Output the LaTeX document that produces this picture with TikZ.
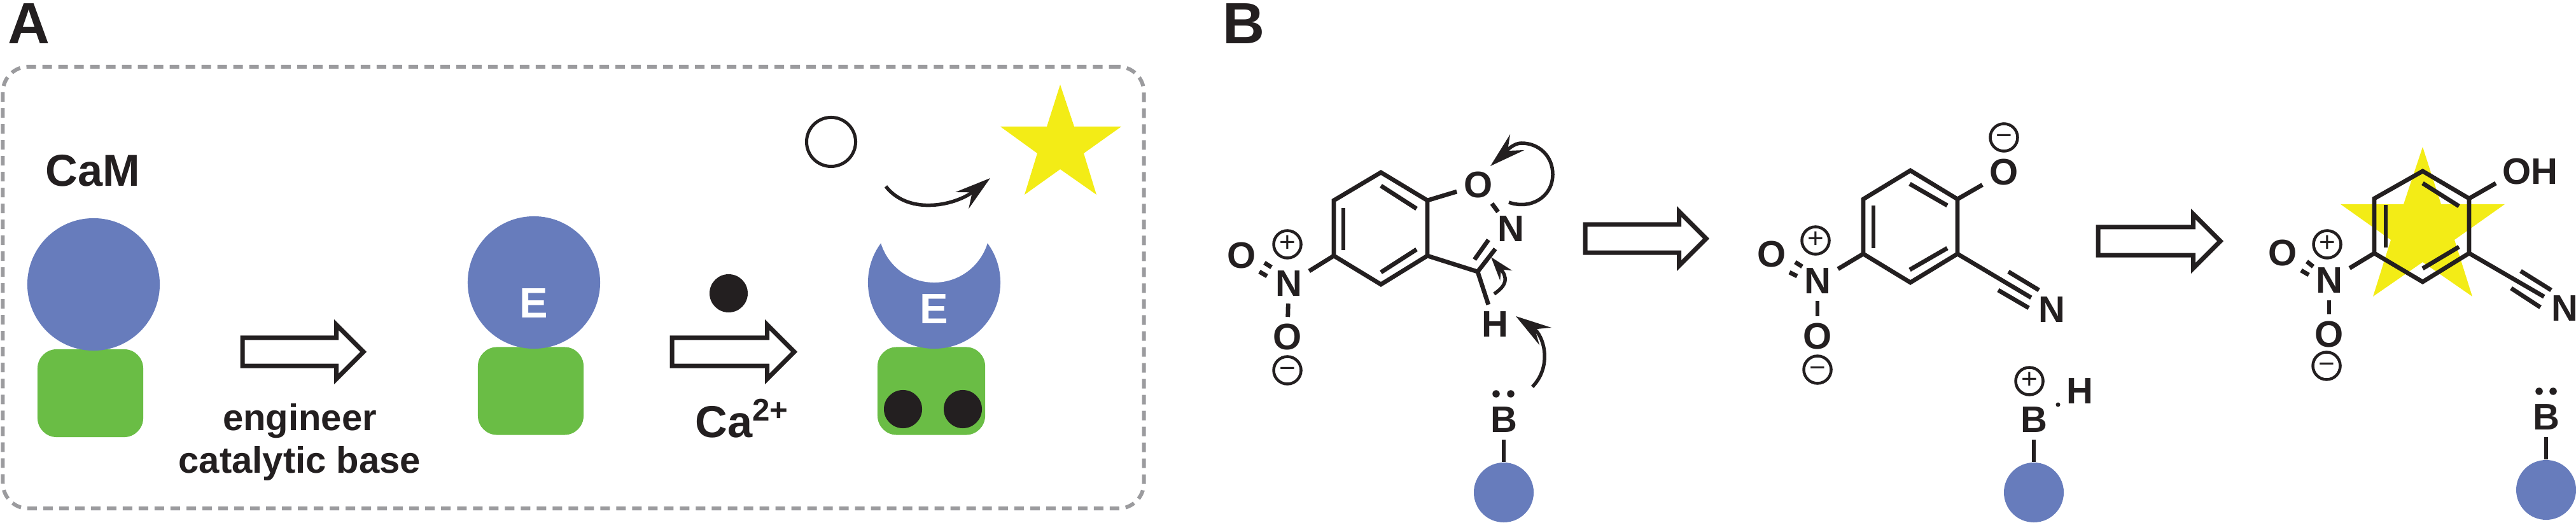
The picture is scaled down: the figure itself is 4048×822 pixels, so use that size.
\documentclass[tikz,border=0pt]{standalone}
\usepackage{fontspec}
\usepackage{tikz}
\usetikzlibrary{positioning, arrows.meta, shapes.geometric, shapes.arrows}
\setmainfont{Liberation Sans}
\definecolor{ink}{HTML}{231F20}
\definecolor{lobeblue}{HTML}{677CBC}
\definecolor{lobegreen}{HTML}{6ABD45}
\definecolor{glowyellow}{HTML}{F3EC16}
\definecolor{framegray}{HTML}{9B9B9E}
\tikzset{
    panellabel/.style={font=\fontsize{26}{26}\selectfont\bfseries, text=ink, inner sep=0pt},
    caption/.style={font=\fontsize{16.5}{18.8}\selectfont\bfseries, text=ink, inner sep=0pt, align=center},
    bigtext/.style={font=\fontsize{20}{20}\selectfont\bfseries, text=ink, inner sep=0pt},
    enz/.style={font=\fontsize{19}{19}\selectfont\bfseries, text=white, inner sep=0pt},
    atom/.style={font=\fontsize{16.5}{16.5}\selectfont\bfseries, text=ink, inner sep=3pt},
    charge/.style={circle, draw=ink, line width=0.045cm, minimum size=0.43cm, inner sep=0pt, text=ink,
        font=\fontsize{12.5}{12.5}\selectfont, text height=0.66em, text depth=0pt},
    lobe/.style={circle, fill=lobeblue, minimum size=2.08cm, inner sep=0pt},
    bead/.style={circle, fill=lobeblue, minimum size=0.94cm, inner sep=0pt},
    greenbox/.style={rectangle, fill=lobegreen, rounded corners=0.3cm, minimum height=1.38cm, inner sep=0pt},
    ion/.style={circle, fill=ink, minimum size=0.6cm, inner sep=0pt},
    pairdot/.style={circle, fill=ink, minimum size=0.115cm, inner sep=0pt},
    fatarrow/.style={single arrow, draw=ink, fill=white, line width=0.07cm, minimum height=1.9cm, anchor=tail,
        inner xsep=0pt, inner ysep=0.185cm, single arrow head extend=0.205cm, outer sep=0pt},
    bond/.style={draw=ink, line width=0.068cm},
    thinbond/.style={draw=ink, line width=0.055cm},
    curly/.style={draw=ink, line width=0.055cm, -{Stealth[length=0.56cm, width=0.33cm, inset=0.2cm]}},
    curlysmall/.style={draw=ink, line width=0.055cm, -{Stealth[length=0.37cm, width=0.24cm, inset=0.12cm]}},
}

\begin{document}
\begin{tikzpicture}[x=0.01cm, y=-0.01cm]
    \useasboundingbox (0,0) rectangle (4048,822);
    \node (labelA) [panellabel] at (46,37) {A};
    \node (labelB) [panellabel] at (1954,37) {B};
    \node (frame) [draw=framegray, line width=0.06cm, dash pattern=on 0.15cm off 0.1cm, rounded corners=0.4cm,
        minimum width=17.92cm, minimum height=6.94cm, inner sep=0pt] at (901,452) {};

    % Panel A: the three states
    \node (cam) [bigtext] at (146,268) {CaM};
    \node (domA) [greenbox, minimum width=1.66cm] at (142,618) {};
    \node (lobeA) [lobe] at (147,447) {};
    \node (stepA) [fatarrow] at (381,553) {};
    \node (stepAtext) [caption] at (471,695) {engineer\\catalytic base};
    \node (domB) [greenbox, minimum width=1.66cm] at (834,614.5) {};
    \node (lobeB) [lobe] at (839,444) {};
    \node (enzB) [enz] at (839,477) {E};
    \node (calcium) [ion] at (1145,461) {};
    \node (stepB) [fatarrow, minimum height=1.92cm] at (1056,553) {};
    \node (catext) [bigtext, anchor=base west] at (1092,688) {Ca\textsuperscript{2+}};
    \node (domC) [greenbox, minimum width=1.69cm] at (1463.5,614.5) {};
    \node (lobeC) [lobe] at (1468,444) {};
    \node (bite) [circle, fill=white, minimum size=1.75cm, inner sep=0pt] at (1468,356.5) {};
    \node (enzC) [enz] at (1468,486) {E};
    \node (ionL) [ion] at (1419,643) {};
    \node (ionR) [ion] at (1513,643) {};
    \node (substrate) [circle, draw=ink, line width=0.05cm, minimum size=0.77cm, inner sep=0pt] at (1306,223) {};
    \fill [glowyellow] (1666,133) -- (1688,199) -- (1762,199) -- (1703,241) -- (1723,306) -- (1666,266)
        -- (1610,306) -- (1630,241) -- (1572,199) -- (1645,199) -- cycle;
    \coordinate (relstart) at (1392,293);
    \coordinate (relend) at (1556,280);
    \draw [curly] (relstart) .. controls (1429,340) and (1503,322) .. (relend);

    % Panel B: isoxazole
    \coordinate (a1) at (2170,271);
    \coordinate (a2) at (2243,315);
    \coordinate (a3) at (2243,402);
    \coordinate (a4) at (2170,447);
    \coordinate (a5) at (2096,402);
    \coordinate (a6) at (2096,315);
    \coordinate (a7) at (2322,427);
    \draw [bond] (a1) -- (a2) -- (a3) -- (a4) -- (a5) -- (a6) -- cycle;
    \draw [bond] (2111,327) -- (2111,393);
    \draw [bond] (2170,292) -- (2226,328);
    \draw [bond] (2170,428) -- (2226,392);
    \node (oxy1) [atom] at (2323,291) {O};
    \node (nit1) [atom] at (2374,360) {N};
    \node (hyd1) [atom] at (2349,510) {H};
    \draw [bond] (a2) -- (oxy1);
    \draw [bond, shorten <=-1pt, shorten >=-1.5pt] (oxy1) -- (nit1);
    \draw [bond] (a3) -- (a7);
    \draw [bond] (a7) -- (nit1);
    \draw [bond] (2317,408) -- (2339,377);
    \draw [bond] (a7) -- (hyd1);
    % Nitro group
    \node (nN1) [atom] at (2025,446) {N};
    \node (nOa1) [atom] at (1951,402) {O};
    \node (nOb1) [atom] at (2023,530) {O};
    \node (plus1) [charge] at (2023,384) {+};
    \node (minus1) [charge] at (2023,582) {−};
    \draw [bond] (a5) -- (nN1);
    \draw [bond] (nN1) -- (nOb1);
    \draw [bond] (1987,413) -- (1998,420);
    \draw [bond] (1979,427) -- (1991,434);
    % Base and curly arrows
    \node (baseA) [atom] at (2363,660) {B};
    \node (beadA) [bead] at (2363,774) {};
    \node (lpA1) [pairdot] at (2351,619) {};
    \node (lpA2) [pairdot] at (2374,619) {};
    \draw [thinbond] (baseA) -- (beadA);
    \coordinate (pushA) at (2371,318);
    \coordinate (pushB) at (2342,261);
    \draw [curly] (pushA) .. controls (2405,330) and (2440,310) .. (2440,274)
        .. controls (2440,245) and (2418,225) .. (2391,225) .. controls (2375,225) and (2360,245) .. (pushB);
    \coordinate (pushC) at (2348,462);
    \coordinate (pushD) at (2343,404);
    \draw [curlysmall] (pushC) .. controls (2368,448) and (2370,437) .. (pushD);
    \coordinate (pushE) at (2408,608);
    \coordinate (pushF) at (2382,497);
    \draw [curly] (pushE) .. controls (2440,575) and (2426,527) .. (pushF);
    \node (stepC) [fatarrow] at (2491,375) {};

    % Panel B: phenolate
    \coordinate (b1) at (3002,268);
    \coordinate (b2) at (3076,313);
    \coordinate (b3) at (3076,399);
    \coordinate (b4) at (3002,444);
    \coordinate (b5) at (2928,399);
    \coordinate (b6) at (2928,313);
    \draw [bond] (b1) -- (b2) -- (b3) -- (b4) -- (b5) -- (b6) -- cycle;
    \draw [bond] (2944,323) -- (2944,390);
    \draw [bond] (3001,289) -- (3060,323);
    \draw [bond] (3001,424) -- (3060,390);
    \node (oxy2) [atom] at (3149,271) {O};
    \node (minus2) [charge] at (3149,216) {−};
    \node (nit2) [atom] at (3224,487) {N};
    \draw [bond] (b2) -- (oxy2);
    \draw [bond] (b3) -- (nit2);
    \draw [bond] (3156,427) -- (3204,456);
    \draw [bond] (3140,456) -- (3188,484);
    \node (nN2) [atom] at (2856,442) {N};
    \node (nOa2) [atom] at (2784,400) {O};
    \node (nOb2) [atom] at (2856,529) {O};
    \node (plus2) [charge] at (2853,378) {+};
    \node (minus3) [charge] at (2856,581) {−};
    \draw [bond] (b5) -- (nN2);
    \draw [bond] (nN2) -- (nOb2);
    \draw [bond] (2821,412) -- (2832,419);
    \draw [bond] (2812,428) -- (2824,434);
    \node (baseB) [atom] at (3196,660) {B};
    \node (beadB) [bead] at (3196,774) {};
    \node (plus3) [charge] at (3189,599) {+};
    \node (hyd2) [atom] at (3268,615) {H};
    \node (hdot) [pairdot, minimum size=0.07cm] at (3234,636) {};
    \draw [thinbond] (baseB) -- (beadB);
    \node (stepD) [fatarrow, minimum height=1.92cm] at (3297,379) {};

    % Panel B: fluorescent phenol
    \fill [glowyellow] (3807,231) -- (3836,321) -- (3936,321) -- (3857,377) -- (3885,466) -- (3807,412)
        -- (3729,466) -- (3757,377) -- (3678,321) -- (3777,321) -- cycle;
    \coordinate (c1) at (3807,269);
    \coordinate (c2) at (3880,312);
    \coordinate (c3) at (3880,398);
    \coordinate (c4) at (3807,443);
    \coordinate (c5) at (3731,398);
    \coordinate (c6) at (3731,312);
    \draw [bond] (c1) -- (c2) -- (c3) -- (c4) -- (c5) -- (c6) -- cycle;
    \draw [bond] (3749,322) -- (3749,389);
    \draw [bond] (3807,288) -- (3864,324);
    \draw [bond] (3807,422) -- (3864,388);
    \node (hydroxyl) [atom] at (3976,270) {OH};
    \coordinate (ohend) at (3922,288);
    \node (nit3) [atom] at (4030,485) {N};
    \draw [bond] (c2) -- (ohend);
    \draw [bond] (c3) -- (nit3);
    \draw [bond] (3961,426) -- (4009,456);
    \draw [bond] (3946,453) -- (3992,483);
    \node (nN3) [atom] at (3660,441) {N};
    \node (nOa3) [atom] at (3587,398) {O};
    \node (nOb3) [atom] at (3660,526) {O};
    \node (plus4) [charge] at (3657,384) {+};
    \node (minus4) [charge] at (3656,575) {−};
    \draw [bond] (c5) -- (nN3);
    \draw [bond] (nN3) -- (nOb3);
    \draw [bond] (3625,411) -- (3635,419);
    \draw [bond] (3616,425) -- (3628,432);
    \node (baseC) [atom] at (4001,656) {B};
    \node (beadC) [bead] at (4001,770) {};
    \node (lpC1) [pairdot] at (3990,615) {};
    \node (lpC2) [pairdot] at (4012,615) {};
    \draw [thinbond] (baseC) -- (beadC);
\end{tikzpicture}
\end{document}
